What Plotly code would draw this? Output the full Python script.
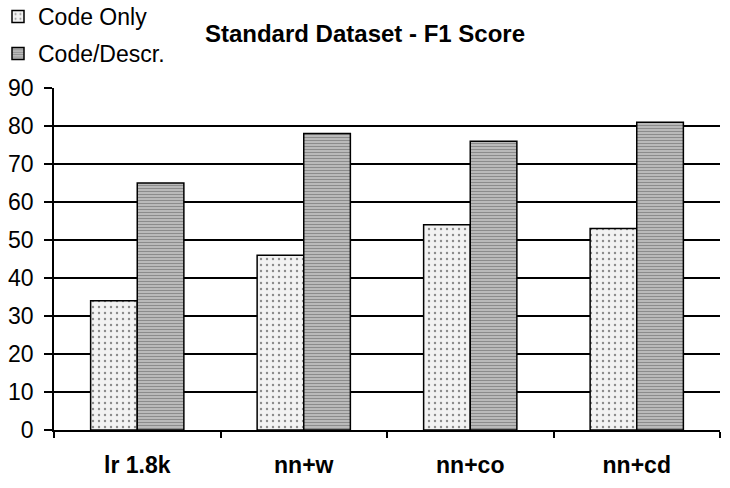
import plotly.graph_objects as go

categories = ["lr 1.8k", "nn+w", "nn+co", "nn+cd"]
code_only = [34, 46, 54, 53]
code_descr = [65, 78, 76, 81]
series_names = ["Code Only", "Code/Descr."]
title_text = "Standard Dataset - F1 Score"

FONT = "Liberation Sans, Arial, sans-serif"
PH = 488 - 88 - 58
PW = 730 - 54 - 10

fig = go.Figure()
fig.add_trace(go.Bar(
    x=categories, y=code_only, name=series_names[0], legend="legend",
    marker=dict(color="#f2f2f2", line=dict(color="black", width=1.5),
                pattern=dict(shape=".", fgcolor="#8a8a8a", bgcolor="#f2f2f2",
                             size=6, solidity=0.12, fillmode="replace")),
))
fig.add_trace(go.Bar(
    x=categories, y=code_descr, name=series_names[1], legend="legend2",
    marker=dict(color="#bdbdbd", line=dict(color="black", width=1.5),
                pattern=dict(shape="-", fgcolor="#8c8c8c", bgcolor="#c4c4c4",
                             size=3, solidity=0.45, fillmode="replace")),
))

fig.update_layout(
    width=730, height=488,
    margin=dict(l=54, r=10, t=88, b=58, autoexpand=False),
    paper_bgcolor="white", plot_bgcolor="white",
    font=dict(family=FONT, size=24, color="black"),
    title=dict(text="<b>" + title_text + "</b>", x=0.5, xanchor="center",
               xref="container", y=1 - 34 / 488, yanchor="middle",
               font=dict(size=24, family=FONT)),
    barmode="group", bargap=0.44, bargroupgap=0,
    legend=dict(x=-56 / PW, xanchor="left", y=1 + 88 / PH + 5 / PH, yanchor="top",
                font=dict(size=23), bgcolor="rgba(0,0,0,0)", borderwidth=0,
                itemwidth=30, tracegroupgap=0),
    legend2=dict(x=-56 / PW, xanchor="left", y=1 + 88 / PH - 32 / PH, yanchor="top",
                 font=dict(size=23), bgcolor="rgba(0,0,0,0)", borderwidth=0,
                 itemwidth=30, tracegroupgap=0),
    showlegend=True,
)

fig.update_xaxes(
    type="category", tickson="boundaries", ticks="outside", ticklen=6,
    tickcolor="black", tickwidth=1.5,
    showline=True, linecolor="black", linewidth=1.5, showgrid=False,
    tickfont=dict(size=23, family=FONT, weight="bold"), ticklabelstandoff=14,
)
fig.update_yaxes(
    range=[0, 90], dtick=10, ticks="outside", ticklen=8, tickcolor="black",
    tickwidth=1.5, showline=True, linecolor="black", linewidth=1.5,
    showgrid=True, gridcolor="black", gridwidth=1.5, zeroline=False,
    tickfont=dict(size=23, family=FONT), ticklabelstandoff=6,
)

fig.write_html("out.html")
